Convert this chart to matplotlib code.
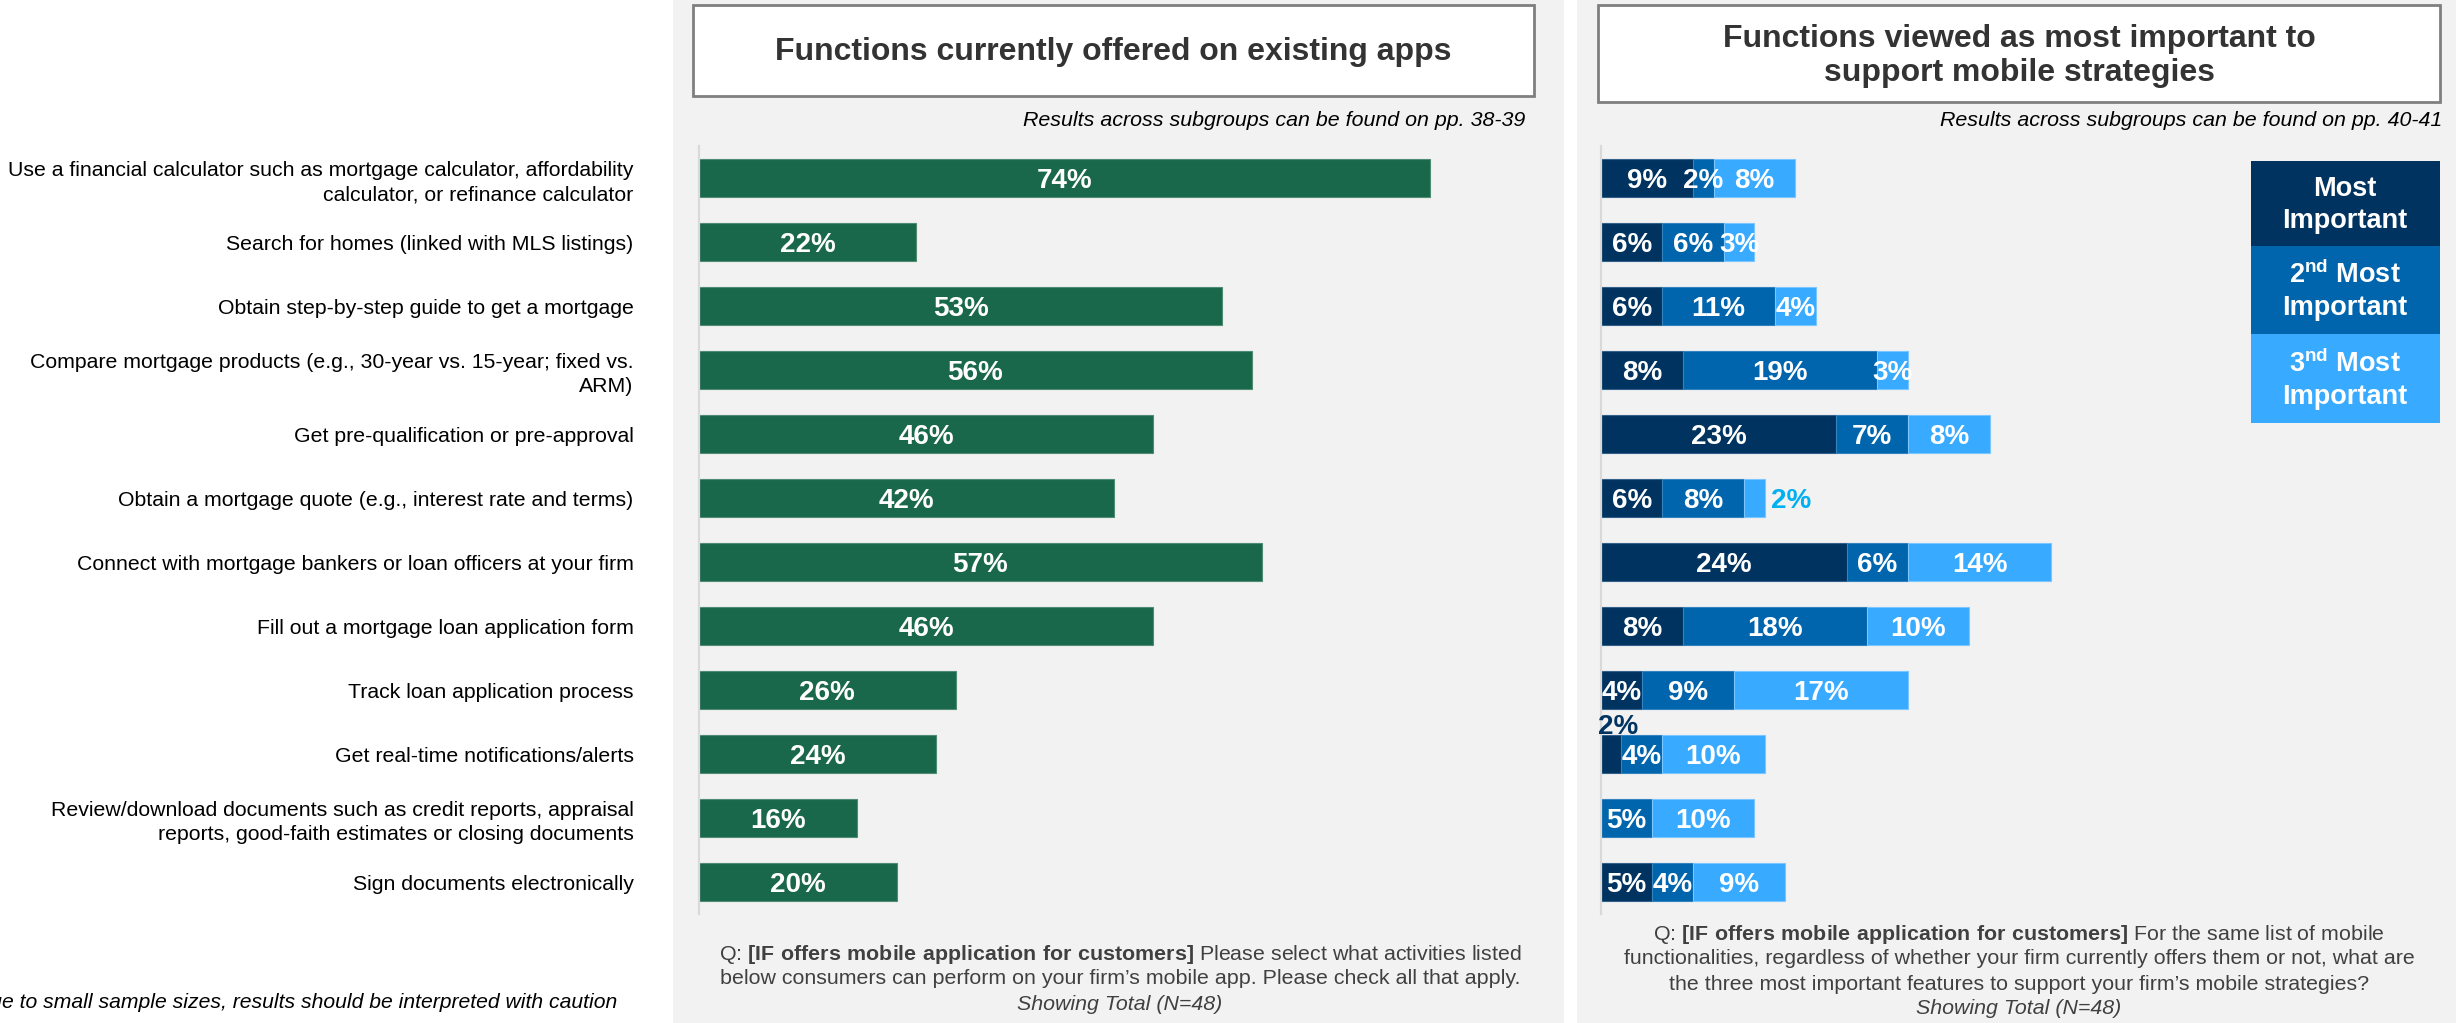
import matplotlib.pyplot as plt
from matplotlib.patches import Rectangle
import numpy as np

plt.rcParams['font.family'] = ['Liberation Sans', 'DejaVu Sans']
plt.rcParams['mathtext.fontset'] = 'custom'
plt.rcParams['mathtext.rm'] = 'Liberation Sans'
plt.rcParams['mathtext.bf'] = 'Liberation Sans:bold'

W, H = 2456, 1023

functions = [
    "Use a financial calculator such as mortgage calculator, affordability\ncalculator, or refinance calculator",
    "Search for homes (linked with MLS listings)",
    "Obtain step-by-step guide to get a mortgage",
    "Compare mortgage products (e.g., 30-year vs. 15-year; fixed vs.\nARM)",
    "Get pre-qualification or pre-approval",
    "Obtain a mortgage quote (e.g., interest rate and terms)",
    "Connect with mortgage bankers or loan officers at your firm",
    "Fill out a mortgage loan application form",
    "Track loan application process",
    "Get real-time notifications/alerts",
    "Review/download documents such as credit reports, appraisal\nreports, good-faith estimates or closing documents",
    "Sign documents electronically",
]
offered = [74, 22, 53, 56, 46, 42, 57, 46, 26, 24, 16, 20]
most_imp = [9, 6, 6, 8, 23, 6, 24, 8, 4, 2, 0, 5]
second_imp = [2, 6, 11, 19, 7, 8, 6, 18, 9, 4, 5, 4]
third_imp = [8, 3, 4, 3, 8, 2, 14, 10, 17, 10, 10, 9]
rank_names = ["Most\nImportant",
              "2$^{\\mathbf{nd}}$ Most\nImportant",
              "3$^{\\mathbf{nd}}$ Most\nImportant"]

GREEN = '#1A684C'
BLUES = ['#00335F', '#0065AD', '#38AAFF']
PANEL = '#F2F2F2'
TXT = '#404040'
NOTE_FS = 15.4
LAB_FS = 20
DY = 0.04  # nudge bar labels onto the bar's optical centre

fig = plt.figure(figsize=(W / 100, H / 100), dpi=100)
fig.patch.set_facecolor('white')

# background layer in pixel units
bg = fig.add_axes([0, 0, 1, 1])
bg.set_xlim(0, W)
bg.set_ylim(H, 0)
bg.axis('off')
bg.add_patch(Rectangle((673, 0), 891, H, color=PANEL, lw=0))
bg.add_patch(Rectangle((1577, 0), W - 1577, H, color=PANEL, lw=0))
bg.add_patch(Rectangle((693, 5), 841, 91, fc='white', ec='#7F7F7F', lw=2))
bg.add_patch(Rectangle((1598, 5), 842, 97, fc='white', ec='#7F7F7F', lw=2))

bg.text(1113, 52, "Functions currently offered on existing apps", ha='center', va='center',
        fontsize=23, fontweight='bold', color='#333333')
bg.text(2019, 56, "Functions viewed as most important to\nsupport mobile strategies", ha='center',
        va='center', fontsize=23, fontweight='bold', color='#333333', linespacing=1.2)
bg.text(1525, 120, "Results across subgroups can be found on pp. 38-39", ha='right', va='center',
        fontsize=NOTE_FS, style='italic', color='black')
bg.text(2442, 120, "Results across subgroups can be found on pp. 40-41", ha='right', va='center',
        fontsize=NOTE_FS, style='italic', color='black')

q_bold = "$\\mathbf{[IF\\ offers\\ mobile\\ application\\ for\\ customers]}$"
left_q = ["Q: " + q_bold + " Please select what activities listed",
          "below consumers can perform on your firm\u2019s mobile app. Please check all that apply."]
right_q = ["Q: " + q_bold + " For the same list of mobile",
           "functionalities, regardless of whether your firm currently offers them or not, what are",
           "the three most important features to support your firm\u2019s mobile strategies?"]
for k, line in enumerate(left_q):
    bg.text(1120, 954 + 25 * k, line, ha='center', va='center', fontsize=NOTE_FS, color=TXT)
bg.text(1120, 1004, "Showing Total (N=48)", ha='center', va='center', fontsize=NOTE_FS,
        style='italic', color=TXT)
for k, line in enumerate(right_q):
    bg.text(2019, 934 + 25 * k, line, ha='center', va='center', fontsize=NOTE_FS, color=TXT)
bg.text(2019, 1009, "Showing Total (N=48)", ha='center', va='center', fontsize=NOTE_FS,
        style='italic', color=TXT)

bg.text(617, 1003, "Due to small sample sizes, results should be interpreted with caution",
        ha='right', va='center', fontsize=15.2, style='italic', color='black')

# legend blocks
leg_y = [161, 246, 334, 423]
for k, name in enumerate(rank_names):
    bg.add_patch(Rectangle((2251, leg_y[k]), 189, leg_y[k + 1] - leg_y[k], color=BLUES[k], lw=0))
    bg.text(2345, (leg_y[k] + leg_y[k + 1]) / 2 + 1, name, ha='center', va='center',
            fontsize=19.5, fontweight='bold', color='white', linespacing=1.3)


def px_axes(x0, y0, w, h):
    a = fig.add_axes([x0 / W, 1 - (y0 + h) / H, w / W, h / H])
    a.set_facecolor('none')
    a.set_ylim(len(functions) - 0.5, -0.5)
    for s in ['top', 'right', 'bottom']:
        a.spines[s].set_visible(False)
    a.spines['left'].set_color('#D9D9D9')
    a.spines['left'].set_linewidth(1.6)
    a.set_xticks([])
    return a


y = np.arange(len(functions))
bh = 0.59

# left chart: functions offered
ax1 = px_axes(699, 146, 790, 768)
ax1.set_xlim(0, 80)
ax1.barh(y, offered, height=bh, color=GREEN, edgecolor='#4E8C74', linewidth=0.8)
for i, v in enumerate(offered):
    ax1.text(v / 2, i + DY, f"{v}%", ha='center', va='center', color='white',
             fontsize=LAB_FS, fontweight='bold')
ax1.set_yticks(y)
ax1.set_yticklabels(functions, fontsize=15.3, color='black', linespacing=1.35)
ax1.tick_params(axis='y', length=0, pad=47)

# right chart: importance ranking
ax2 = px_axes(1601, 146, 800, 768)
ax2.set_xlim(0, 800 / 10.23)
ax2.set_yticks([])
left = np.zeros(len(functions))
edges = ['#336089', '#3384BE', '#7CC6FF']
for k, vals in enumerate([most_imp, second_imp, third_imp]):
    vals = np.array(vals, dtype=float)
    ax2.barh(y, vals, left=left, height=bh, color=BLUES[k], edgecolor=edges[k], linewidth=0.8)
    for i, v in enumerate(vals):
        if v == 0:
            continue
        lab = f"{int(v)}%"
        if v <= 2 and k == 2:
            ax2.text(left[i] + v + 0.6, i + DY, lab, ha='left', va='center', color='#00B0F0',
                     fontsize=LAB_FS, fontweight='bold')
        elif v <= 2 and k == 0:
            ax2.text(left[i] + v / 2 + 0.7, i - 0.42, lab, ha='center', va='center',
                     color=BLUES[0], fontsize=LAB_FS, fontweight='bold')
        else:
            ax2.text(left[i] + v / 2, i + DY, lab, ha='center', va='center', color='white',
                     fontsize=LAB_FS, fontweight='bold')
    left += vals

fig.savefig('out.png', dpi=100, facecolor=fig.get_facecolor())
